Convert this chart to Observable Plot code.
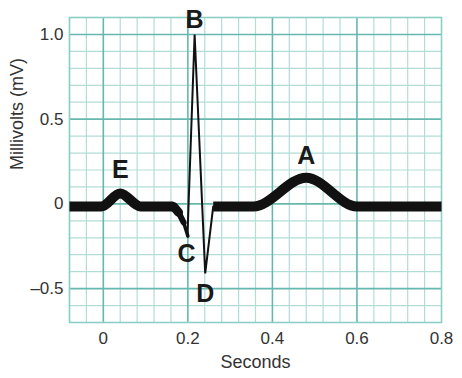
<!DOCTYPE html>
<html>
<head>
<meta charset="utf-8">
<script src="https://cdn.jsdelivr.net/npm/d3@7"></script>
<script src="https://cdn.jsdelivr.net/npm/@observablehq/plot@0.6"></script>
<style>
  html, body { margin: 0; padding: 0; background: #fff; }
  #chart { width: 462px; height: 378px; }
</style>
</head>
<body>
<div id="chart"></div>
<script>
// ECG trace pieces (seconds, millivolts)
const pWaveT  = [-0.08, -0.005, 0.04, 0.088, 0.166];
const pWaveMV = [-0.015, -0.015, 0.062, -0.015, -0.015];

const qDescentT  = [0.166, 0.178, 0.19, 0.2];
const qDescentMV = [-0.015, -0.05, -0.11, -0.19];

const qrsT  = [0.199, 0.216, 0.241, 0.26];
const qrsMV = [-0.19, 1.0, -0.41, -0.015];

const tWaveT  = [0.26, 0.355, 0.48, 0.6, 0.8];
const tWaveMV = [-0.015, -0.015, 0.155, -0.015, -0.015];

// point labels
const labelText = ["E", "B", "C", "D", "A"];
const labelT    = [0.04, 0.216, 0.197, 0.241, 0.48];
const labelMV   = [0.2, 1.083, -0.295, -0.53, 0.285];

// axes
const xDomain = [-0.08, 0.8];
const yDomain = [-0.7, 1.1];
const xTicks = [0, 0.2, 0.4, 0.6, 0.8];
const yTicks = [-0.5, 0, 0.5, 1.0];
const yTickLabels = ["\u20130.5", "0", "0.5", "1.0"];

const pts = (ts, vs) => ts.map((t, i) => ({t, v: vs[i]}));
const pWave = pts(pWaveT, pWaveMV);
const tWave = pts(tWaveT, tWaveMV);
const qrs = pts(qrsT, qrsMV);
const qd = pts(qDescentT, qDescentMV);
const qdSegs = qd.slice(0, -1).map((d, i) => ({x1: d.t, y1: d.v, x2: qd[i + 1].t, y2: qd[i + 1].v, i}));
const labels = labelText.map((s, i) => ({s, t: labelT[i], v: labelMV[i]}));

const minorX = d3.range(-2, 21).map(k => k * 0.04).filter(x => Math.abs(x / 0.2 - Math.round(x / 0.2)) > 1e-6);
const majorX = [0, 0.2, 0.4, 0.6];
const minorY = d3.range(-7, 12).map(k => k * 0.1).filter(y => Math.abs(y / 0.5 - Math.round(y / 0.5)) > 1e-6);
const majorY = [-0.5, 0, 0.5, 1.0];

const minorColor = "#b2ddd7";
const majorColor = "#66b8ae";

const chart = Plot.plot({
  width: 462,
  height: 378,
  marginLeft: 69,
  marginRight: 21,
  marginTop: 17,
  marginBottom: 56,
  style: {fontFamily: "Liberation Sans, Arial, sans-serif", fontSize: "17px", color: "#333", background: "#fff"},
  x: {domain: xDomain, label: null},
  y: {domain: yDomain, label: null},
  marks: [
    Plot.ruleX(minorX, {stroke: minorColor, strokeWidth: 1.2}),
    Plot.ruleY(minorY, {stroke: minorColor, strokeWidth: 1.2}),
    Plot.ruleX(majorX, {stroke: majorColor, strokeWidth: 1.6}),
    Plot.ruleY(majorY, {stroke: majorColor, strokeWidth: 1.6}),
    Plot.frame({stroke: "#8ccfc6", strokeWidth: 1.6}),
    Plot.axisX({ticks: xTicks, tickSize: 0, tickPadding: 9, tickFormat: d => d === 0 ? "0" : d3.format(".1f")(d), fontSize: 17, fill: "#333", label: null}),
    Plot.axisY({ticks: yTicks, tickSize: 0, tickPadding: 6, tickFormat: d => yTickLabels[yTicks.indexOf(d)], fontSize: 17, fill: "#333", label: null}),
    Plot.text(["Seconds"], {frameAnchor: "bottom", dy: 45, fontSize: 18, fill: "#333"}),
    Plot.text(["Millivolts (mV)"], {frameAnchor: "left", dx: -52, rotate: -90, fontSize: 18, fill: "#333"}),
    Plot.line(pWave, {x: "t", y: "v", stroke: "#111", strokeWidth: 10, curve: "monotone-x", strokeLinejoin: "round", strokeLinecap: "butt"}),
    Plot.line(tWave, {x: "t", y: "v", stroke: "#111", strokeWidth: 10, curve: "monotone-x", strokeLinejoin: "round", strokeLinecap: "butt"}),
    Plot.link(qdSegs, {x1: "x1", y1: "y1", x2: "x2", y2: "y2", stroke: "#111", strokeWidth: d => [9, 6, 3.5][d.i], strokeLinecap: "round"}),
    Plot.line(qrs, {x: "t", y: "v", stroke: "#111", strokeWidth: 2, strokeLinejoin: "miter"}),
    Plot.text(labels, {x: "t", y: "v", text: "s", fontSize: 25, fontWeight: "bold", fill: "#1a1a1a", stroke: "white", strokeWidth: 0})
  ]
});
document.getElementById("chart").appendChild(chart);
</script>
</body>
</html>
